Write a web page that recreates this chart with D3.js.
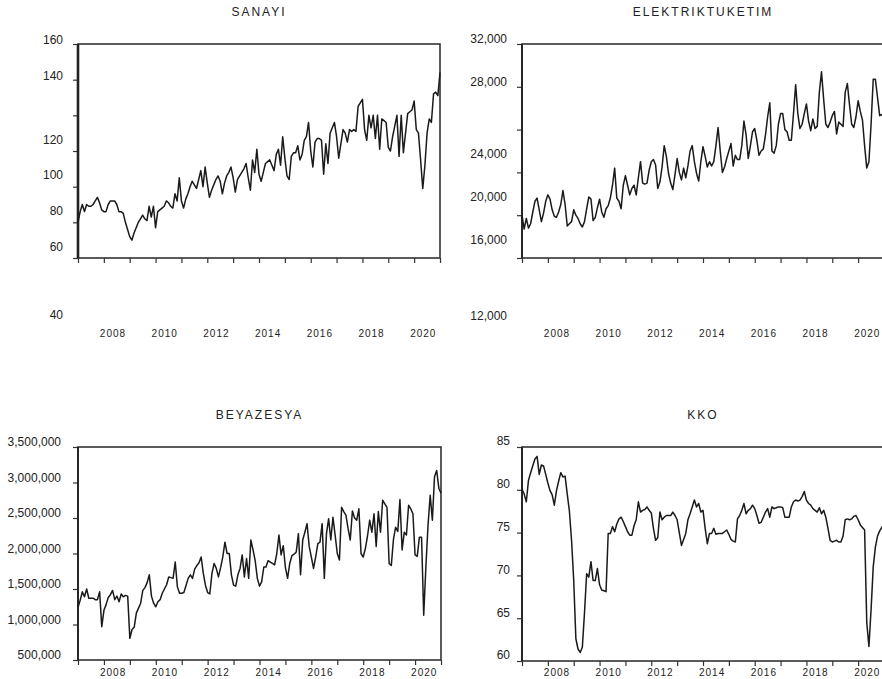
<!DOCTYPE html>
<html>
<head>
<meta charset="utf-8">
<script src="https://cdn.jsdelivr.net/npm/d3@7"></script>
<style>
  body { margin: 0; background: #fff; }
  svg text { font-family: "Liberation Sans", Arial, sans-serif; fill: #222; }
</style>
</head>
<body>
<svg id="chart" width="882" height="679"></svg>
<script>
// monthly series, 2007M01 .. 2021M01
const startYear = 2007;
const tickYears = d3.range(2007, 2022);
const labelYears = [2008, 2010, 2012, 2014, 2016, 2018, 2020];
const titles = ["SANAYI", "ELEKTRIKTUKETIM", "BEYAZESYA", "KKO"];

const sanayiTicks = [160, 140, 120, 100, 80, 60, 40];
const elektrikTicks = [32000, 28000, 24000, 20000, 16000, 12000];
const beyazesyaTicks = [3500000, 3000000, 2500000, 2000000, 1500000, 1000000, 500000];
const kkoTicks = [85, 80, 75, 70, 65, 60];

const sanayi = [
  60, 66, 70, 66, 70, 69, 69, 70, 72, 74, 71, 67,
  66, 66, 70, 72, 72, 72, 70, 66, 66, 65, 60, 56,
  52, 50, 54, 57, 60, 62, 64, 62, 61, 69, 63, 69,
  57, 66, 67, 68, 69, 72, 71, 69, 68, 76, 72, 85,
  72, 68, 73, 76, 80, 83, 81, 79, 84, 89, 80, 91,
  82, 74, 78, 81, 84, 86, 83, 76, 82, 86, 88, 91,
  85, 77, 84, 86, 88, 90, 93, 85, 78, 95, 88, 101,
  87, 83, 88, 93, 94, 95, 92, 89, 98, 101, 92, 108,
  96, 86, 84, 97, 99, 99, 103, 95, 98, 106, 108, 116,
  100, 91, 105, 107, 107, 106, 87, 104, 93, 110, 113, 116,
  108, 96, 104, 112, 110, 105, 112, 111, 112, 111, 125, 127,
  129, 112, 106, 120, 113, 120, 107, 120, 101, 118, 117, 116,
  102, 100, 108, 114, 120, 97, 120, 99, 110, 121, 122, 123,
  128, 112, 110, 95, 79, 92, 110, 118, 116, 132, 133, 131,
  144
];

const elektrik = [
  16000, 14700, 15700, 14800, 15200, 16300, 17300, 17600, 16500, 15400, 16200, 17300,
  17900, 17500, 16500, 15900, 15800, 16300, 17000, 18300, 17000, 15000, 15200, 15400,
  16500, 16000, 15700, 15200, 14900, 15400, 16600, 17700, 17500, 15500, 15800, 16700,
  17500, 16300, 15800, 16600, 16900, 17600, 18800, 20400, 17600, 17300, 16600, 18800,
  19700, 18800, 17900, 18500, 18800, 17900, 19500, 21000, 19000, 18900, 19000, 20200,
  21000, 21200, 20700, 18500, 19100, 20500, 22500, 21500, 19900, 19000, 18400, 19800,
  21300, 20000, 19300, 20400, 19500, 20600, 22000, 22500, 21000, 19900, 19200, 21000,
  22400, 21500, 20500, 21000, 20600, 21000, 22500, 24200, 22000, 20000, 20500, 21300,
  22000, 22700, 20600, 21600, 21200, 21200, 22500, 24800, 23500, 21300, 22500, 23800,
  24100, 23000, 21600, 22000, 22200, 23500, 25200, 26500, 22000, 21800, 22500, 24500,
  25500, 25500, 24000, 23800, 23000, 23000, 25500, 28200, 25500, 24100, 24500, 25500,
  26400, 24800, 23900, 25000, 24100, 24300, 27500, 29400, 26800, 24500, 24200, 24700,
  25300, 25700, 23600, 24700, 24500, 24300, 27500, 28300, 26300, 24500, 24200, 25200,
  26700, 25700, 24900, 22500, 20400, 21000, 24500, 28700, 28700, 27000, 25300, 25400,
  25500
];

// thousands of units
const beyazesya = [
  1240, 1340, 1460, 1390, 1500, 1370, 1370, 1370, 1350, 1350, 1460, 970,
  1200, 1280, 1380, 1420, 1480, 1350, 1400, 1320, 1430, 1390, 1410, 1400,
  805, 930, 960, 1160, 1230, 1300, 1480, 1520, 1590, 1700, 1400, 1300,
  1250, 1320, 1350, 1440, 1500, 1560, 1670, 1660, 1650, 1880, 1530, 1440,
  1440, 1450, 1550, 1650, 1700, 1650, 1780, 1830, 1870, 1950, 1720, 1550,
  1450, 1430, 1720, 1860, 1790, 1670, 1800, 1950, 2160, 2000, 2000, 1700,
  1555, 1540, 1700, 1790, 1980, 1670, 1930, 1650, 2190, 2050, 1900, 1650,
  1540, 1600, 1810, 1810, 1900, 1880, 1860, 1840, 2000, 2260, 1980, 2110,
  1800, 1650, 1860, 1970, 1990, 2020, 2280, 1700, 2190, 2300, 2420, 2100,
  1950, 1790, 1950, 2140, 2160, 2420, 1650, 2280, 2490, 2190, 2510, 2260,
  2000, 1910, 2650, 2590, 2540, 2350, 2190, 2600, 2500, 2470, 2630, 2000,
  1950, 2070, 2250, 2470, 2300, 2560, 2100, 2590, 2300, 2750, 2700, 2650,
  1860, 1830, 2200, 2370, 2310, 2760, 2050, 2300, 2260, 2680, 2630, 2560,
  1980, 1960, 2230, 2230, 1130, 1810, 2400, 2820, 2470, 3080, 3170, 2920,
  2850
];

const kko = [
  80.1, 79.5, 78.6, 81.1, 82.0, 82.8, 83.6, 83.9, 81.8, 82.9, 82.8, 81.8,
  80.8, 79.9, 79.4, 78.2, 79.9, 81.0, 82.0, 81.5, 81.6, 79.5, 77.5, 74.1,
  69.4, 62.6, 61.4, 61.0, 61.6, 65.6, 70.2, 69.8, 71.6, 69.4, 69.4, 70.8,
  68.9, 68.3, 68.2, 68.1, 74.9, 74.9, 75.7, 75.1, 76.0, 76.6, 76.8, 76.3,
  75.7, 75.1, 74.7, 74.7, 75.8, 76.5, 78.6, 77.4, 77.6, 77.7, 78.0, 77.6,
  77.3, 75.5, 74.1, 74.4, 77.4, 76.5, 76.8, 77.0, 77.0, 77.0, 77.4, 77.0,
  76.5, 75.0, 73.5, 74.2, 74.9, 76.5, 77.2, 78.0, 78.8, 78.0, 78.4, 77.4,
  77.6, 75.5, 73.7, 74.9, 74.9, 75.5, 74.8, 74.9, 74.9, 74.9, 75.1, 75.3,
  74.8, 74.2, 74.0, 73.9, 76.6, 77.0, 77.6, 78.4, 77.2, 77.6, 77.8, 78.2,
  77.8, 77.0, 76.1, 76.2, 76.8, 77.4, 77.8, 76.8, 78.0, 77.8, 77.9, 78.0,
  78.0, 77.9, 76.8, 76.8, 76.8, 78.0, 78.6, 78.8, 78.7, 78.8, 79.2, 79.8,
  78.8, 78.4, 78.2, 77.8, 77.6, 77.4, 77.9, 77.2, 77.6, 76.8, 75.5, 74.1,
  73.9, 74.0, 74.1, 73.9, 73.9, 74.6, 76.5, 76.6, 76.5, 76.6, 76.9, 77.0,
  76.5, 75.9, 75.6, 75.3, 64.5, 61.7, 66.0, 71.0, 73.3, 74.6, 75.2, 75.6,
  76.0
];

const panels = [
  { title: titles[0], values: sanayi, ticks: sanayiTicks, fmt: d3.format("d"),
    x0: 78, x1: 440, y0: 44, y1: 258, labelGap: 10,
    labelShift: [-4, -4, 24, 24, 24, 24, 57], yearY: 337, titleY: 16, leftW: 2.6 },
  { title: titles[1], values: elektrik, ticks: elektrikTicks, fmt: d3.format(","),
    x0: 522, x1: 884, y0: 44, y1: 258, labelGap: 10,
    labelShift: [-5, -5, 24, 24, 24, 58], yearY: 337, titleY: 16, leftW: 1.8 },
  { title: titles[2], values: beyazesya.map(v => v * 1000), ticks: beyazesyaTicks, fmt: d3.format(","),
    x0: 78, x1: 441, y0: 447, y1: 660, labelGap: 12,
    labelShift: beyazesyaTicks.map(() => -5), yearY: 675.5, titleY: 418.5, leftW: 1.8 },
  { title: titles[3], values: kko, ticks: kkoTicks, fmt: d3.format("d"),
    x0: 522, x1: 884, y0: 447, y1: 661, labelGap: 7,
    labelShift: kkoTicks.map(() => -6), yearY: 675.5, titleY: 418.5, leftW: 1.8 }
];

const svg = d3.select("#chart");
const nMonths = (tickYears[tickYears.length - 1] - startYear) * 12;

panels.forEach((p) => {
  const g = svg.append("g");

  const x = d3.scaleLinear().domain([0, nMonths]).range([p.x0, p.x1]);
  const y = d3.scaleLinear().domain(d3.extent(p.ticks)).range([p.y1, p.y0]);

  // title
  g.append("text")
    .attr("x", (p.x0 + p.x1) / 2)
    .attr("y", p.titleY)
    .attr("text-anchor", "middle")
    .style("font-size", "12px")
    .style("letter-spacing", "2px")
    .text(p.title);

  // left axis
  const ya = g.append("g")
    .attr("transform", `translate(${p.x0},0)`)
    .call(d3.axisLeft(y).tickValues(p.ticks).tickSize(5).tickPadding(p.labelGap).tickFormat(p.fmt));
  ya.select(".domain").remove();
  ya.selectAll(".tick line").attr("stroke", "#333").attr("stroke-width", 1.2);
  ya.selectAll(".tick text")
    .attr("y", (d, i) => p.labelShift[i])
    .style("font-size", "12px")
    .style("font-family", '"Liberation Sans", Arial, sans-serif')
    .attr("fill", "#222");

  // year ticks
  const xa = g.append("g")
    .attr("transform", `translate(0,${p.y1})`)
    .call(d3.axisBottom(x).tickValues(tickYears.map(yr => (yr - startYear) * 12)).tickSize(5).tickFormat(""));
  xa.select(".domain").remove();
  xa.selectAll(".tick line").attr("stroke", "#333").attr("stroke-width", 1.2);

  // year labels
  const xl = g.append("g")
    .attr("transform", `translate(0,${p.y1})`)
    .call(d3.axisBottom(x)
      .tickValues(labelYears.map(yr => (yr - startYear) * 12 + 4))
      .tickSize(0)
      .tickPadding(p.yearY - p.y1 - 7.1)
      .tickFormat(i => startYear + Math.floor(i / 12)));
  xl.select(".domain").remove();
  xl.selectAll(".tick text")
    .style("font-size", "10px")
    .style("letter-spacing", "1px")
    .style("font-family", '"Liberation Sans", Arial, sans-serif')
    .attr("fill", "#222");

  // frame
  g.append("rect")
    .attr("x", p.x0).attr("y", p.y0)
    .attr("width", p.x1 - p.x0).attr("height", p.y1 - p.y0)
    .attr("fill", "none")
    .attr("stroke", "#333")
    .attr("stroke-width", 1.6);
  g.append("line")
    .attr("x1", p.x0).attr("x2", p.x0)
    .attr("y1", p.y0).attr("y2", p.y1)
    .attr("stroke", "#222")
    .attr("stroke-width", p.leftW);

  // series
  g.append("path")
    .datum(p.values)
    .attr("fill", "none")
    .attr("stroke", "#1a1a1a")
    .attr("stroke-width", 1.5)
    .attr("stroke-linejoin", "round")
    .attr("d", d3.line().x((d, i) => x(i)).y(d => y(d)));
});
</script>
</body>
</html>
